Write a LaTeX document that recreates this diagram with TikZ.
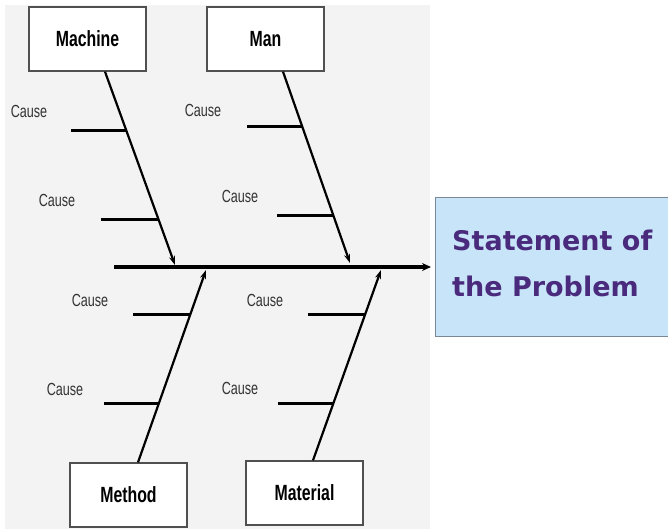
\documentclass[tikz,border=0pt]{standalone}
\usepackage{fontspec}
\setmainfont{Liberation Sans}
\newfontfamily\narrowfont[FakeStretch=0.72]{Liberation Sans}
\newfontfamily\statefont{DejaVu Sans}
\usetikzlibrary{calc,arrows.meta}
\definecolor{bgpanel}{HTML}{F3F3F3}
\definecolor{boxedge}{HTML}{505050}
\definecolor{stfill}{HTML}{C8E4F8}
\definecolor{stedge}{HTML}{7A8896}
\definecolor{sttext}{HTML}{4A2A7C}
\definecolor{causetext}{HTML}{333333}
\tikzset{
  catbox/.style={draw=boxedge, line width=1.3pt, fill=white, minimum width=117pt, minimum height=64pt, inner sep=0pt,
    font={\narrowfont\bfseries\fontsize{22}{24}\selectfont}},
  causelabel/.style={text=causetext, inner sep=0pt, font={\narrowfont\fontsize{17.5}{19}\selectfont}},
  bone/.style={line width=2.2pt, -{Stealth[length=9pt,width=6pt]}},
  causeline/.style={line width=3pt},
  spine/.style={line width=3.2pt, -{Stealth[length=9pt,width=8pt]}}
}
\begin{document}
\begin{tikzpicture}[x=1pt,y=-1pt]
\clip (0,0) rectangle (668,529);
\useasboundingbox (0,0) rectangle (668,529);
\fill[white] (0,0) rectangle (668,529);
\fill[bgpanel] (5,5) rectangle (430,529);

% category boxes
\node[catbox] (machine) at (87.5,39) {Machine};
\node[catbox] (man) at (265.5,39) {Man};
\node[catbox] (method) at (128.5,495) {Method};
\node[catbox] (material) at (304.5,493) {Material};

% effect box
\node[draw=stedge, line width=1.2pt, fill=stfill, anchor=north west, minimum width=250pt, minimum height=139pt] (effect) at (435,197) {};
\node[anchor=north west, text=sttext, inner sep=0pt, align=left,
  font={\statefont\bfseries\fontsize{27}{46}\selectfont}] (efftext) at (452,230) {Statement of\\the Problem};

% spine
\coordinate (spinestart) at (114,267);
\coordinate (spineend) at (effect.west|-spinestart);
\draw[spine] (spinestart) -- ($(spineend)+(-4,0)$);

% bone endpoints
\coordinate (mach0) at ($(machine.south)+(17.5,0)$);
\coordinate (mach1) at (175,265);
\coordinate (man0) at ($(man.south)+(17.5,0)$);
\coordinate (man1) at (350,263);
\coordinate (meth0) at ($(method.north)+(9.5,0)$);
\coordinate (meth1) at (206,270);
\coordinate (mat0) at ($(material.north)+(8.5,0)$);
\coordinate (mat1) at (381,270);

\draw[bone] (mach0) -- (mach1);
\draw[bone] (man0) -- (man1);
\draw[bone] (meth0) -- (meth1);
\draw[bone] (mat0) -- (mat1);

% cause attachment points
\coordinate (mc1) at ($(mach0)!0.304!(mach1)$);
\coordinate (mc2) at ($(mach0)!0.763!(mach1)$);
\coordinate (nc1) at ($(man0)!0.288!(man1)$);
\coordinate (nc2) at ($(man0)!0.754!(man1)$);
\coordinate (tc1) at ($(meth0)!0.767!(meth1)$);
\coordinate (tc2) at ($(meth0)!0.306!(meth1)$);
\coordinate (ac1) at ($(mat0)!0.768!(mat1)$);
\coordinate (ac2) at ($(mat0)!0.30!(mat1)$);

\draw[causeline] (mc1) -- ++(-55,0);
\draw[causeline] (mc2) -- ++(-57,0);
\draw[causeline] (nc1) -- ++(-55,0);
\draw[causeline] (nc2) -- ++(-57,0);
\draw[causeline] (tc1) -- ++(-57,0);
\draw[causeline] (tc2) -- ++(-55,0);
\draw[causeline] (ac1) -- ++(-57,0);
\draw[causeline] (ac2) -- ++(-55,0);

% cause labels
\node[causelabel] (l1) at (29,111) {Cause};
\node[causelabel] (l2) at (57,200) {Cause};
\node[causelabel] (l3) at (203,110) {Cause};
\node[causelabel] (l4) at (240,196) {Cause};
\node[causelabel] (l5) at (90,300) {Cause};
\node[causelabel] (l6) at (65,389) {Cause};
\node[causelabel] (l7) at (265,300) {Cause};
\node[causelabel] (l8) at (240,388) {Cause};
\end{tikzpicture}
\end{document}
